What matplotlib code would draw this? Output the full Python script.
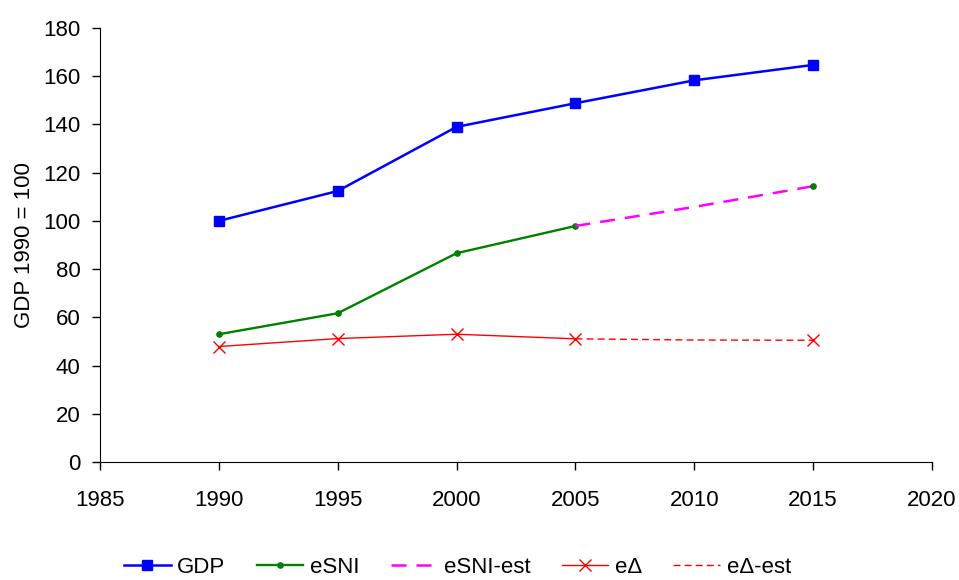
import numpy as np
import matplotlib.pyplot as plt

plt.rcParams['font.family'] = ['Liberation Sans', 'DejaVu Sans']

years = [1990, 1995, 2000, 2005, 2010, 2015]
gdp = [100, 112.4, 139, 148.8, 158.3, 164.7]

esni_years = [1990, 1995, 2000, 2005]
esni = [53, 61.7, 86.6, 97.9]
esni_est_years = [2005, 2010, 2015]
esni_est = [97.9, 105.8, 114.4]
esni_end_year = [2015]
esni_end = [114.4]

edelta_years = [1990, 1995, 2000, 2005]
edelta = [47.9, 51.2, 53.0, 51.1]
edelta_est_years = [2005, 2010, 2015]
edelta_est = [51.1, 50.6, 50.5]
edelta_end_year = [2015]
edelta_end = [50.5]

fig = plt.figure(figsize=(9.59, 5.8), dpi=100)
ax = fig.add_axes([0.1043, 0.2034, 0.8675, 0.7483])

ax.plot(years, gdp, '-s', color='#0000ff', lw=1.8, ms=6.5, label='GDP')
ax.plot(esni_years, esni, '-o', color='#008000', lw=1.7, ms=3.8, label='eSNI')
ax.plot(esni_est_years, esni_est, '--', color='#ff00ff', lw=1.8, dashes=(6, 4), label='eSNI-est')
ax.plot(esni_end_year, esni_end, 'o', color='#008000', ms=3.8)
ax.plot(edelta_years, edelta, '-x', color='#ff0000', lw=1.0, ms=9, mew=1.0, label='e\u0394')
ax.plot(edelta_est_years, edelta_est, '--', color='#ff0000', lw=1.0, dashes=(5, 3), label='e\u0394-est')
ax.plot(edelta_end_year, edelta_end, 'x', color='#ff0000', ms=9, mew=1.0)

ax.set_xlim(1985, 2020)
ax.set_ylim(0, 180)
ax.set_xticks(np.arange(1985, 2021, 5))
ax.set_yticks(np.arange(0, 181, 20))
ax.spines['top'].set_visible(False)
ax.spines['right'].set_visible(False)
ax.tick_params(direction='out', length=6, labelsize=16, width=1)
ax.tick_params(axis='x', pad=14)
ax.tick_params(axis='y', pad=8)
ax.set_ylabel('GDP 1990 = 100', fontsize=16, labelpad=6)

fig.legend(loc='center', bbox_to_anchor=(0.477, 0.022), ncol=5, frameon=False,
           fontsize=16, handlelength=2.1, columnspacing=1.4, handletextpad=0.3,
           borderpad=0.1)

plt.savefig('out.png')
